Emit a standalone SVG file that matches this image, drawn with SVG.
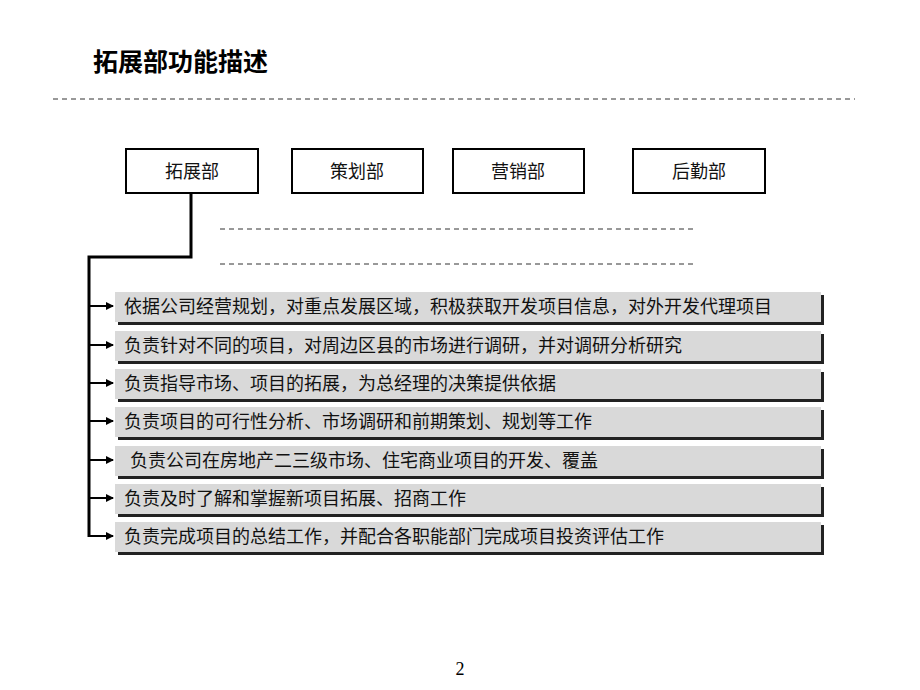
<svg xmlns="http://www.w3.org/2000/svg" width="920" height="690" viewBox="0 0 920 690">
<style>
.t{font-family:"Liberation Serif","Noto Sans CJK SC",serif;font-size:18px;fill:#111}
.box{fill:#fff;stroke:#000;stroke-width:2}
.bar{fill:#d9d9d9}
.sh{fill:#222}
.ln{stroke:#000;stroke-width:3;fill:none}
.dash{stroke:#333;stroke-width:1;stroke-dasharray:5,4}
</style>
<defs><marker id="ar" markerWidth="8" markerHeight="8" refX="7" refY="4" orient="auto" markerUnits="userSpaceOnUse"><path d="M0,0L8,4L0,8z" fill="#000"/></marker></defs>
<rect width="920" height="690" fill="#fff"/>
<text x="93" y="71" style="font-family:'Noto Sans CJK SC',sans-serif;font-size:25px;font-weight:bold">拓展部功能描述</text>
<line class="dash" x1="53" y1="99" x2="855" y2="99"/>
<g id="n1"><rect class="box" x="126" y="149" width="132" height="44"/><text class="t" x="192" y="178" text-anchor="middle">拓展部</text></g>
<g id="n2"><rect class="box" x="292" y="149" width="131" height="44"/><text class="t" x="357" y="178" text-anchor="middle">策划部</text></g>
<g id="n3"><rect class="box" x="453" y="149" width="131" height="44"/><text class="t" x="518" y="178" text-anchor="middle">营销部</text></g>
<g id="n4"><rect class="box" x="633" y="149" width="132" height="44"/><text class="t" x="699" y="178" text-anchor="middle">后勤部</text></g>
<line class="dash" x1="220" y1="229" x2="693" y2="229"/>
<line class="dash" x1="220" y1="264" x2="693" y2="264"/>
<g id="items">
<g><rect class="sh" x="118" y="295" width="706" height="30"/><rect class="bar" x="115" y="292" width="706" height="30"/><text class="t" x="124" y="313">依据公司经营规划，对重点发展区域，积极获取开发项目信息，对外开发代理项目</text></g>
<g><rect class="sh" x="118" y="334" width="706" height="30"/><rect class="bar" x="115" y="331" width="706" height="30"/><text class="t" x="124" y="352">负责针对不同的项目，对周边区县的市场进行调研，并对调研分析研究</text></g>
<g><rect class="sh" x="118" y="372" width="706" height="30"/><rect class="bar" x="115" y="369" width="706" height="30"/><text class="t" x="124" y="390">负责指导市场、项目的拓展，为总经理的决策提供依据</text></g>
<g><rect class="sh" x="118" y="410" width="706" height="30"/><rect class="bar" x="115" y="407" width="706" height="30"/><text class="t" x="124" y="428">负责项目的可行性分析、市场调研和前期策划、规划等工作</text></g>
<g><rect class="sh" x="118" y="449" width="706" height="30"/><rect class="bar" x="115" y="446" width="706" height="30"/><text class="t" x="130" y="467">负责公司在房地产二三级市场、住宅商业项目的开发、覆盖</text></g>
<g><rect class="sh" x="118" y="487" width="706" height="30"/><rect class="bar" x="115" y="484" width="706" height="30"/><text class="t" x="124" y="505">负责及时了解和掌握新项目拓展、招商工作</text></g>
<g><rect class="sh" x="118" y="525" width="706" height="30"/><rect class="bar" x="115" y="522" width="706" height="30"/><text class="t" x="124" y="543">负责完成项目的总结工作，并配合各职能部门完成项目投资评估工作</text></g>
</g>
<g id="connectors">
<polyline class="ln" points="191,193 191,257 89,257 89,537"/>
<g stroke="#000" stroke-width="2" marker-end="url(#ar)">
<line x1="89" y1="306" x2="113" y2="306"/>
<line x1="89" y1="345" x2="113" y2="345"/>
<line x1="89" y1="383" x2="113" y2="383"/>
<line x1="89" y1="421" x2="113" y2="421"/>
<line x1="89" y1="460" x2="113" y2="460"/>
<line x1="89" y1="498" x2="113" y2="498"/>
<line x1="89" y1="536" x2="113" y2="536"/>
</g>
</g>
<text x="460" y="675" text-anchor="middle" style="font-family:'Liberation Serif',serif;font-size:18px">2</text>
</svg>
